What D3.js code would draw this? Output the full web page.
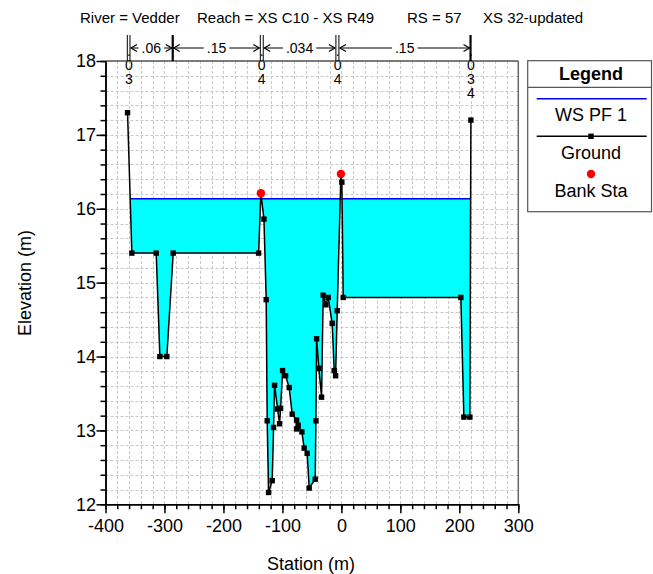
<!DOCTYPE html>
<html><head><meta charset="utf-8">
<script src="https://cdn.jsdelivr.net/npm/d3@7"></script>
<style>
html,body{margin:0;padding:0;background:#fff;}
svg{display:block;font-family:"Liberation Sans",Arial,sans-serif;}
.vstack{writing-mode:vertical-rl;text-orientation:upright;letter-spacing:-2px;}
</style></head>
<body>
<svg id="chart" width="653" height="574"></svg>
<script>
// ---- Data ----
const stations = [-362.6,-355.3,-314.0,-307.8,-296.0,-285.2,-140.4,-136.5,-131.3,-127.5,-125.8,-123.5,-117.3,-115.0,-113.3,-108.2,-104.8,-103.1,-99.7,-94.6,-88.5,-83.4,-76.0,-76.0,-73.3,-67.0,-63.1,-58.0,-54.6,-44.4,-43.2,-42.0,-38.2,-33.6,-30.9,-26.3,-22.4,-15.6,-12.2,-9.8,-7.1,-0.8,0.8,3.1,202.6,207.7,217.9,219.6];
const elevations = [17.30,15.40,15.40,14.00,14.00,15.40,15.40,16.21,15.86,14.77,13.13,12.16,12.32,13.04,13.61,13.29,13.09,13.30,13.81,13.74,13.58,13.22,13.14,13.02,13.07,12.98,12.76,12.69,12.22,12.34,13.13,14.24,13.84,13.45,14.83,14.70,14.80,14.45,13.81,13.74,14.62,16.47,16.36,14.80,14.80,13.18,13.18,17.20];
const bankStations = [-136.5,-0.8];
const bankElevations = [16.21,16.47];
const wsElevation = 16.135;
const nValueLabels = [".06",".15",".034",".15"];
const nValueFrom = [-358.5,-286,-132.5,-4.2];
const nValueTo = [-286,-137.5,-9.3,219];
const thinBars = [-363,-358.5,-137.5,-132.5,-9.3,-4.2];
const thickBars = [-286,219];
const stackStations = [-360.3,-135.3,-6.4,219.6];
const stackLabels = [".03",".04",".04",".034"];
const xMajorTicks = [-400,-300,-200,-100,0,100,200,300];
const yMajorTicks = [12,13,14,15,16,17,18];
const titleParts = ["River = Vedder","Reach = XS C10 - XS R49","RS = 57","XS 32-updated"];
const titleX = [80,197,407,483];
const legendLabels = ["WS PF 1","Ground","Bank Sta"];

// ---- Scales ----
const svg = d3.select("#chart");
const x = d3.scaleLinear().domain([-400,300]).range([105.5,518.3]);
const y = d3.scaleLinear().domain([12,18]).range([504.3,61]);

svg.append("rect").attr("width",653).attr("height",574).attr("fill","#fff");

// Grid
const gx = d3.range(-400,301,20), gy = d3.range(12,18.001,0.2);
const grid = svg.append("g").attr("stroke","#c8c8c8").attr("stroke-width",1).attr("stroke-dasharray","3,2");
grid.selectAll(".vx").data(gx).join("line").attr("x1",d=>Math.round(x(d))+0.5).attr("x2",d=>Math.round(x(d))+0.5).attr("y1",y(18)).attr("y2",y(12));
grid.selectAll(".hy").data(gy).join("line").attr("y1",d=>Math.round(y(d))+0.5).attr("y2",d=>Math.round(y(d))+0.5).attr("x1",x(-400)).attr("x2",x(300));

// Water fill: clip ground at WS with crossings
const pts = stations.map((s,i)=>[s,elevations[i]]);
let clipped = [];
for(let i=0;i<pts.length;i++){
  const p = pts[i];
  if(i>0){
    const q = pts[i-1];
    if((q[1]-wsElevation)*(p[1]-wsElevation)<0){
      const t = (wsElevation-q[1])/(p[1]-q[1]);
      clipped.push([q[0]+t*(p[0]-q[0]), wsElevation]);
    }
  }
  clipped.push(p);
}
let first = clipped.findIndex(p=>p[1]===wsElevation);
let last = clipped.length-1 - [...clipped].reverse().findIndex(p=>p[1]===wsElevation);
const wet = clipped.slice(first,last+1);
const area = d3.area().x(d=>x(d[0])).y0(y(wsElevation)).y1(d=>y(Math.min(d[1],wsElevation)));
svg.append("path").datum(wet).attr("d",area).attr("fill","#00ffff").attr("stroke","none");

// WS line
svg.append("line").attr("x1",x(wet[0][0])).attr("x2",x(wet[wet.length-1][0]))
  .attr("y1",y(wsElevation)).attr("y2",y(wsElevation)).attr("stroke","#0000ff").attr("stroke-width",1.5);

// Ground
const line = d3.line().x(d=>x(d[0])).y(d=>y(d[1]));
svg.append("path").datum(pts).attr("d",line).attr("fill","none").attr("stroke","#000").attr("stroke-width",1.5);
svg.selectAll(".gpt").data(pts).join("rect").attr("x",d=>x(d[0])-2.7).attr("y",d=>y(d[1])-2.7)
  .attr("width",5.4).attr("height",5.4).attr("fill","#000");

// Bank stations
svg.selectAll(".bank").data(bankStations).join("circle").attr("cx",d=>x(d)).attr("cy",(d,i)=>y(bankElevations[i]))
  .attr("r",4.2).attr("fill","#ff0000");

// Stacked labels above plot (single vertical text each)
svg.append("g").attr("font-size",14).attr("fill","#000")
  .selectAll("text").data(stackLabels).join("text").attr("class","vstack")
  .attr("x",(d,i)=>x(stackStations[i])).attr("y",42.5).text(d=>d);

// Frame top/right
svg.append("line").attr("x1",x(-400)).attr("x2",x(300)).attr("y1",y(18)).attr("y2",y(18)).attr("stroke","#555").attr("stroke-width",1.5);
svg.append("line").attr("x1",x(300)).attr("x2",x(300)).attr("y1",y(18)).attr("y2",y(12)).attr("stroke","#666").attr("stroke-width",1.5);

// n-value bars
svg.selectAll(".tb").data(thinBars).join("line").attr("x1",d=>x(d)).attr("x2",d=>x(d)).attr("y1",35).attr("y2",y(18))
  .attr("stroke","#000").attr("stroke-width",1);
svg.selectAll(".kb").data(thickBars).join("line").attr("x1",d=>x(d)).attr("x2",d=>x(d)).attr("y1",35).attr("y2",y(18))
  .attr("stroke","#000").attr("stroke-width",2.2);

// n-value arrows
const ann = svg.append("g");
const ay = 48;
nValueLabels.forEach((lab,i)=>{
  const x1 = x(nValueFrom[i])+1, x2 = x(nValueTo[i])-1;
  const cx = (x1+x2)/2;
  const t = ann.append("text").attr("x",cx).attr("y",ay+5).attr("text-anchor","middle").attr("font-size",14).text(lab);
  const w = t.node().getComputedTextLength();
  ann.append("line").attr("x1",x1).attr("x2",cx-w/2-3).attr("y1",ay).attr("y2",ay).attr("stroke","#000").attr("stroke-width",1);
  ann.append("line").attr("x1",cx+w/2+3).attr("x2",x2).attr("y1",ay).attr("y2",ay).attr("stroke","#000").attr("stroke-width",1);
  ann.append("path").attr("d",`M${x1+6},${ay-3.5}L${x1},${ay}L${x1+6},${ay+3.5}`).attr("fill","none").attr("stroke","#000").attr("stroke-width",1.2);
  ann.append("path").attr("d",`M${x2-6},${ay-3.5}L${x2},${ay}L${x2-6},${ay+3.5}`).attr("fill","none").attr("stroke","#000").attr("stroke-width",1.2);
});

// Axes
const fmt = d => String(d);
const xAxis = svg.append("g").attr("transform",`translate(0,${y(12)})`)
  .call(d3.axisBottom(x).tickValues(xMajorTicks).tickSize(9).tickSizeOuter(0).tickFormat(fmt));
xAxis.append("g").call(d3.axisBottom(x).tickValues(d3.range(-400,301,20)).tickSize(5).tickSizeOuter(0).tickFormat(""));
xAxis.selectAll("text").attr("y",27.4).attr("dy",null).attr("font-size",18).attr("fill","#000").attr("font-family","Liberation Sans, Arial, sans-serif");
xAxis.selectAll("path,line").attr("stroke","#000").attr("stroke-width",1.5);

const yAxis = svg.append("g").attr("transform",`translate(${x(-400)},0)`)
  .call(d3.axisLeft(y).tickValues(yMajorTicks).tickSize(9).tickSizeOuter(0).tickFormat(fmt));
yAxis.append("g").call(d3.axisLeft(y).tickValues(gy).tickSize(5).tickSizeOuter(0).tickFormat(""));
yAxis.selectAll("text").attr("x",-9.5).attr("font-size",18).attr("fill","#000").attr("font-family","Liberation Sans, Arial, sans-serif");
yAxis.selectAll("path,line").attr("stroke","#000").attr("stroke-width",1.5);

// Axis titles
svg.append("text").attr("x",311).attr("y",570).attr("text-anchor","middle").attr("font-size",18).text("Station (m)");
svg.append("text").attr("transform","translate(31,283) rotate(-90)").attr("text-anchor","middle").attr("font-size",18).text("Elevation (m)");

// Title
svg.selectAll(".tt").data(titleParts).join("text").attr("x",(d,i)=>titleX[i]).attr("y",23).attr("font-size",15).text(d=>d);

// Legend
const lg = svg.append("g");
lg.append("rect").attr("x",527.7).attr("y",60.7).attr("width",123.8).attr("height",151).attr("fill","#fff").attr("stroke","#555").attr("stroke-width",1.2);
lg.append("line").attr("x1",527.7).attr("x2",651.5).attr("y1",87.3).attr("y2",87.3).attr("stroke","#555").attr("stroke-width",1.2);
lg.append("text").attr("x",591).attr("y",79.5).attr("text-anchor","middle").attr("font-size",18).attr("font-weight","bold").text("Legend");
lg.append("line").attr("x1",536.7).attr("x2",646.7).attr("y1",98.7).attr("y2",98.7).attr("stroke","#0000ff").attr("stroke-width",1.5);
lg.append("line").attr("x1",536.7).attr("x2",646.7).attr("y1",136.3).attr("y2",136.3).attr("stroke","#000").attr("stroke-width",1.5);
lg.append("rect").attr("x",588.3).attr("y",133.6).attr("width",5.4).attr("height",5.4).attr("fill","#000");
lg.append("circle").attr("cx",591).attr("cy",174).attr("r",4.2).attr("fill","#ff0000");
const ly = [120.5,158.5,196.5];
legendLabels.forEach((l,i)=>lg.append("text").attr("x",591).attr("y",ly[i]).attr("text-anchor","middle").attr("font-size",18).text(l));
</script>
</body></html>
